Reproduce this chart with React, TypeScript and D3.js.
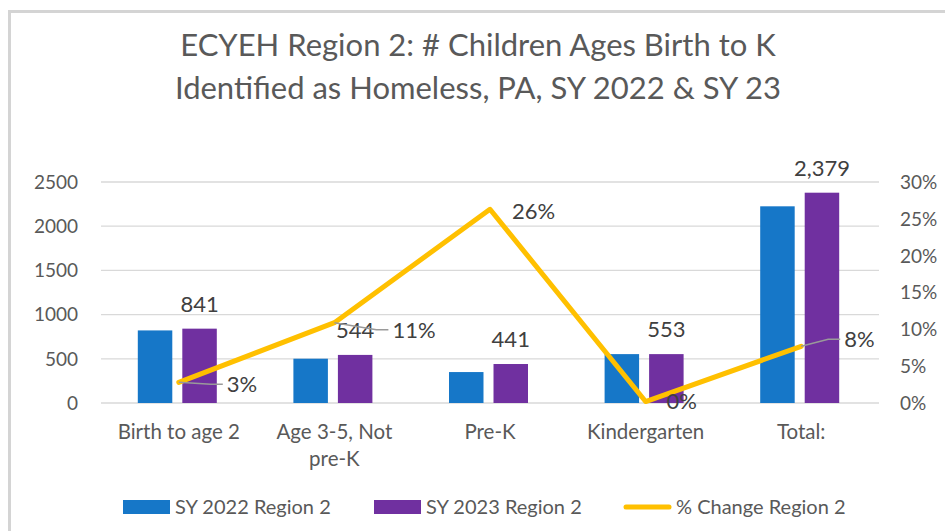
import * as d3 from 'd3';
import { useEffect, useRef } from 'react';

// chart values
const categories = ['Birth to age 2', 'Age 3-5, Not pre-K', 'Pre-K', 'Kindergarten', 'Total:'];
const sy2022 = [821, 501, 350, 553, 2225];
const sy2023 = [841, 544, 441, 553, 2379];
const pctChange = [0.028, 0.109, 0.263, 0.002, 0.077];
const leftTicks = [0, 500, 1000, 1500, 2000, 2500];
const rightTicks = [0, 0.05, 0.1, 0.15, 0.2, 0.25, 0.3];
const seriesNames = ['SY 2022 Region 2', 'SY 2023 Region 2', '% Change Region 2'];
const titleLines = [
  'ECYEH Region 2: # Children Ages Birth to K',
  'Identified as Homeless, PA, SY 2022 & SY 23',
];

const BLUE = '#1677c8';
const PURPLE = '#7030a0';
const YELLOW = '#ffc000';
const FONT = 'Lato, "Open Sans", sans-serif';

// where Excel put the % labels relative to their point (dx, dy, leader line?)
const pctLabelPos = [
  { dx: 48, dy: 2, leader: true },
  { dx: 58, dy: 7, leader: true },
  { dx: 22, dy: 2, leader: false },
  { dx: 21, dy: 0, leader: false },
  { dx: 43, dy: -7, leader: true },
];

const App = () => {
  const ref = useRef<SVGSVGElement>(null);

  useEffect(() => {
    document.body.style.margin = '0';
    const svg = d3.select(ref.current);
    svg.selectAll('*').remove();

    const width = 945;
    const height = 531;
    const margin = { top: 182, right: 66, bottom: 128, left: 101 };
    const innerW = width - margin.left - margin.right;
    const innerH = height - margin.top - margin.bottom;

    // chart frame
    svg
      .append('rect')
      .attr('x', 9.5)
      .attr('y', 11.5)
      .attr('width', 960)
      .attr('height', 560)
      .attr('fill', '#fff')
      .attr('stroke', '#d4d4d4')
      .attr('stroke-width', 3);

    // title
    svg
      .append('g')
      .attr('font-family', FONT)
      .attr('font-size', 31)
      .attr('fill', '#595959')
      .attr('text-anchor', 'middle')
      .selectAll('text')
      .data(titleLines)
      .enter()
      .append('text')
      .attr('x', 478)
      .attr('y', (d, i) => 56 + i * 43)
      .text((d) => d);

    const g = svg
      .append('g')
      .attr('transform', 'translate(' + margin.left + ',' + margin.top + ')');

    const x0 = d3.scaleBand().domain(categories).range([0, innerW]);
    const x1 = d3
      .scaleBand()
      .domain(['a', 'b'])
      .range([0, 79])
      .paddingInner(0.225);
    const y = d3.scaleLinear().domain([0, 2500]).range([innerH, 0]);
    const y2 = d3.scaleLinear().domain([0, 0.3]).range([innerH, 0]);

    // gridlines
    g.append('g')
      .selectAll('line')
      .data(leftTicks)
      .enter()
      .append('line')
      .attr('x1', 0)
      .attr('x2', innerW)
      .attr('y1', (d) => y(d))
      .attr('y2', (d) => y(d))
      .attr('stroke', '#d9d9d9')
      .attr('stroke-width', 1.3);

    // left axis labels
    g.append('g')
      .attr('font-family', FONT)
      .attr('font-size', 19)
      .attr('fill', '#595959')
      .attr('text-anchor', 'end')
      .selectAll('text')
      .data(leftTicks)
      .enter()
      .append('text')
      .attr('x', -23)
      .attr('y', (d) => y(d))
      .attr('dy', '0.36em')
      .text((d) => d);

    // right axis labels
    g.append('g')
      .attr('font-family', FONT)
      .attr('font-size', 19)
      .attr('fill', '#595959')
      .attr('text-anchor', 'start')
      .selectAll('text')
      .data(rightTicks)
      .enter()
      .append('text')
      .attr('x', innerW + 21)
      .attr('y', (d) => y2(d))
      .attr('dy', '0.36em')
      .text((d) => d3.format('.0%')(d));

    // bars
    const groups = g
      .append('g')
      .selectAll('g')
      .data(categories)
      .enter()
      .append('g')
      .attr('transform', (d) => 'translate(' + (x0(d)! + x0.bandwidth() / 2 - 41) + ',0)');

    groups
      .selectAll('rect')
      .data((d, i) => [
        { key: 'a', value: sy2022[i] },
        { key: 'b', value: sy2023[i] },
      ])
      .enter()
      .append('rect')
      .attr('x', (d) => x1(d.key)!)
      .attr('y', (d) => y(d.value))
      .attr('width', x1.bandwidth())
      .attr('height', (d) => innerH - y(d.value))
      .attr('fill', (d) => (d.key === 'a' ? BLUE : PURPLE));

    // SY 2023 value labels
    groups
      .append('text')
      .attr('font-family', FONT)
      .attr('font-size', 22)
      .attr('fill', '#404040')
      .attr('text-anchor', 'middle')
      .attr('x', x1('b')! + x1.bandwidth() / 2)
      .attr('y', (d, i) => y(sy2023[i]) - 25)
      .attr('dy', '0.36em')
      .text((d, i) => d3.format(',')(sy2023[i]));

    // % change line
    const cx = (i: number) => x0(categories[i])! + x0.bandwidth() / 2;
    const line = d3
      .line<number>()
      .x((d, i) => cx(i))
      .y((d) => y2(d));

    g.append('path')
      .datum(pctChange)
      .attr('d', line)
      .attr('fill', 'none')
      .attr('stroke', YELLOW)
      .attr('stroke-width', 5)
      .attr('stroke-linejoin', 'round')
      .attr('stroke-linecap', 'round');

    // leader lines + % labels
    pctChange.forEach((v, i) => {
      const px = cx(i);
      const py = y2(v);
      const p = pctLabelPos[i];
      if (p.leader) {
        g.append('polyline')
          .attr(
            'points',
            [
              [px, py],
              [px + p.dx - 16, py + p.dy],
              [px + p.dx - 4, py + p.dy],
            ]
              .map((q) => q.join(','))
              .join(' ')
          )
          .attr('fill', 'none')
          .attr('stroke', '#9a9a9a')
          .attr('stroke-width', 1.5);
      }
      g.append('text')
        .attr('font-family', FONT)
        .attr('font-size', 22)
        .attr('fill', '#404040')
        .attr('x', px + p.dx)
        .attr('y', py + p.dy)
        .attr('dy', '0.36em')
        .text(d3.format('.0%')(v));
    });

    // category labels, wrapped
    const xl = g
      .append('g')
      .attr('font-family', FONT)
      .attr('font-size', 20.5)
      .attr('fill', '#595959')
      .attr('text-anchor', 'middle')
      .selectAll('text')
      .data(categories)
      .enter()
      .append('text')
      .attr('x', (d) => x0(d)! + x0.bandwidth() / 2)
      .attr('y', innerH + 36);

    xl.each(function (d) {
      const t = d3.select(this);
      const words = d.split(' ');
      let lineWords: string[] = [];
      let tspan = t.append('tspan').attr('x', t.attr('x')).attr('dy', 0);
      words.forEach((w) => {
        lineWords.push(w);
        tspan.text(lineWords.join(' '));
        if ((tspan.node() as SVGTSpanElement).getComputedTextLength() > 140 && lineWords.length > 1) {
          lineWords.pop();
          tspan.text(lineWords.join(' '));
          lineWords = [w];
          tspan = t.append('tspan').attr('x', t.attr('x')).attr('dy', 27).text(w);
        }
      });
    });

    // legend
    const legend = svg
      .append('g')
      .attr('font-family', FONT)
      .attr('font-size', 20)
      .attr('fill', '#595959')
      .selectAll('g')
      .data(seriesNames)
      .enter()
      .append('g')
      .attr('transform', (d, i) => 'translate(' + [123, 374, 624][i] + ',507)');

    legend.each(function (d, i) {
      const l = d3.select(this);
      if (i < 2) {
        l.append('rect')
          .attr('x', 0)
          .attr('y', -7)
          .attr('width', 47)
          .attr('height', 14)
          .attr('fill', i === 0 ? BLUE : PURPLE);
      } else {
        l.append('line')
          .attr('x1', 2)
          .attr('x2', 45)
          .attr('y1', 0)
          .attr('y2', 0)
          .attr('stroke', YELLOW)
          .attr('stroke-width', 5)
          .attr('stroke-linecap', 'round');
      }
      l.append('text')
        .attr('x', 52)
        .attr('y', 0)
        .attr('dy', '0.36em')
        .text(d);
    });
  }, []);

  return <svg ref={ref} width={945} height={531} style={{ display: 'block' }}></svg>;
};

export default App;
